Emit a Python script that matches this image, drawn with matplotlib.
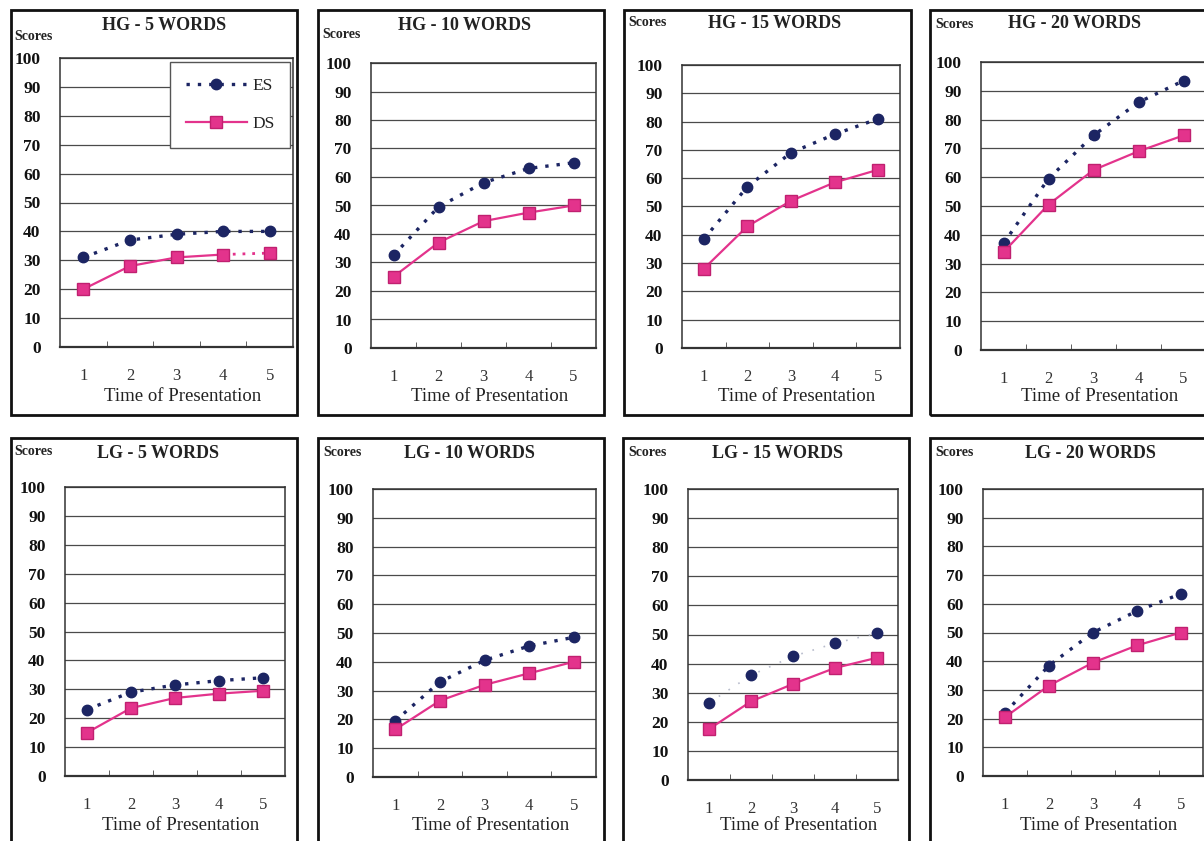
import matplotlib
matplotlib.use("Agg")
import matplotlib.pyplot as plt
from matplotlib.patches import Rectangle
from matplotlib.ticker import FixedLocator

plt.rcParams['font.family'] = ['Liberation Serif', 'DejaVu Serif']

# ---------------- data ----------------
times = ["1", "2", "3", "4", "5"]
titles = ["HG - 5 WORDS", "HG - 10 WORDS", "HG - 15 WORDS", "HG - 20 WORDS",
          "LG - 5 WORDS", "LG - 10 WORDS", "LG - 15 WORDS", "LG - 20 WORDS"]
es_hg5 = [31, 37, 39, 40, 40]
ds_hg5 = [20, 28, 31, 32, 32.5]
es_hg10 = [32.5, 49.5, 58, 63, 65]
ds_hg10 = [25, 37, 44.5, 47.5, 50]
es_hg15 = [38.5, 57, 69, 75.5, 81]
ds_hg15 = [28, 43, 52, 58.5, 63]
es_hg20 = [37, 59.5, 74.5, 86, 93.5]
ds_hg20 = [34, 50.5, 62.5, 69, 74.5]
es_lg5 = [23, 29, 31.5, 33, 34]
ds_lg5 = [15, 23.5, 27, 28.5, 29.5]
es_lg10 = [19.5, 33, 40.5, 45.5, 48.5]
ds_lg10 = [16.5, 26.5, 32, 36, 40]
es_lg15 = [26.5, 36, 42.5, 47, 50.5]
ds_lg15 = [17.5, 27, 33, 38.5, 42]
es_lg20 = [22, 38.5, 50, 57.5, 63.5]
ds_lg20 = [20.5, 31.5, 39.5, 45.5, 50]
es_series = [es_hg5, es_hg10, es_hg15, es_hg20, es_lg5, es_lg10, es_lg15, es_lg20]
ds_series = [ds_hg5, ds_hg10, ds_hg15, ds_hg20, ds_lg5, ds_lg10, ds_lg15, ds_lg20]
y_ticks = [0, 10, 20, 30, 40, 50, 60, 70, 80, 90, 100]

# ---------------- layout (pixels) ----------------
W, H = 1204, 841
fig = plt.figure(figsize=(W / 100, H / 100), dpi=100)
fig.patch.set_facecolor('white')

def fx(x):
    return x / W

def fy(y):
    return 1 - y / H

# plot-area rectangles: left, right, top(100), bottom(0)
areas = [(60, 293, 58, 347), (371, 596, 63, 348), (682, 900, 65, 348), (981, 1206, 62, 350),
         (65, 285, 487, 776), (373, 596, 489, 777), (688, 898, 489, 780), (983, 1203, 489, 776)]
# panel boxes: left, right, top, bottom
boxes = [(11, 297, 10, 415), (318, 604, 10, 415), (624, 911, 10, 415), (930, 1230, 10, 415),
         (11, 297, 438, 860), (318, 604, 438, 860), (623, 909, 438, 860), (930, 1230, 438, 860)]
title_pos = [(164, 25), (465, 25), (775, 23), (1074, 24),
             (158, 453), (469, 453), (777, 453), (1090, 453)]
scores_pos = [(14, 36), (322, 35), (628, 23), (935, 24),
              (14, 452), (323, 453), (628, 453), (935, 453)]
xlabel_y = [397, 397, 397, 397, 826, 826, 826, 826]

ES_COLOR = '#1c2563'
DS_COLOR = '#e3338c'
GRID = '#4a4a4a'

for i in range(8):
    bl, br, bt, bb = boxes[i]
    fig.patches.append(Rectangle((fx(bl), fy(bb)), fx(br) - fx(bl), fy(bt) - fy(bb),
                                 transform=fig.transFigure, fill=False,
                                 edgecolor='#111111', linewidth=2.0, zorder=0))
    l, r, t, b = areas[i]
    ax = fig.add_axes([fx(l), fy(b), fx(r) - fx(l), fy(t) - fy(b)])
    ax.set_facecolor('white')
    x = list(range(1, 6))
    ax.set_xlim(0.5, 5.5)
    ax.set_ylim(0, 100)
    ax.yaxis.set_major_locator(FixedLocator(y_ticks))
    ax.set_xticks(x)
    ax.set_xticklabels(times)
    ax.xaxis.set_minor_locator(FixedLocator([1.5, 2.5, 3.5, 4.5]))
    ax.tick_params(axis='x', which='major', length=0, pad=15, labelsize=12, colors='#333333')
    ax.tick_params(axis='x', which='minor', length=4, direction='in', color='#444444')
    ax.tick_params(axis='y', length=0, pad=14, labelsize=12.5, colors='#111111')
    for lab in ax.get_yticklabels():
        lab.set_fontweight('bold')
    ax.grid(axis='y', color=GRID, linewidth=0.9)
    ax.set_axisbelow(True)
    for s in ax.spines.values():
        s.set_color('#333333')
        s.set_linewidth(1.1)
    ax.spines['bottom'].set_linewidth(1.6)

    es = es_series[i]
    ds = ds_series[i]
    if i == 6:
        ax.plot(x, es, linestyle=(0, (1, 6)), color='#b8bccc', linewidth=1.2, zorder=2)
        ax.plot(x, es, linestyle='none', marker='o', markersize=7.5,
                color=ES_COLOR, zorder=3, label='ES')
    else:
        ax.plot(x, es, linestyle=(0, (1, 2.4)), color=ES_COLOR, linewidth=2.4,
                marker='o', markersize=7.5, zorder=3, label='ES')
    if i == 0:
        ax.plot(x[3:], ds[3:], linestyle=(0, (1, 2.5)), color=DS_COLOR, linewidth=2.0, zorder=2)
        ax.plot(x[:4], ds[:4], color=DS_COLOR, linewidth=1.6, zorder=3)
        ax.plot(x, ds, linestyle='none', marker='s', markersize=8, color=DS_COLOR,
                markeredgecolor='#c02070', zorder=4)
        h1, = ax.plot([], [], linestyle=(0, (1, 2.4)), color=ES_COLOR, linewidth=2.4,
                      marker='o', markersize=7.5)
        h2, = ax.plot([], [], color=DS_COLOR, linewidth=1.6, marker='s', markersize=8,
                      markeredgecolor='#c02070')
        leg = ax.legend([h1, h2], ['ES', 'DS'], loc='upper right',
                        bbox_to_anchor=(fx(290), fy(62)), bbox_transform=fig.transFigure,
                        fancybox=False, edgecolor='#555555', framealpha=1,
                        handlelength=3.5, labelspacing=1.3, fontsize=12.5,
                        borderpad=0.9, handletextpad=0.3, borderaxespad=0)
        leg.get_frame().set_linewidth(1.0)
        for txt in leg.get_texts():
            txt.set_color('#222222')
    else:
        ax.plot(x, ds, color=DS_COLOR, linewidth=1.6, marker='s', markersize=8,
                markeredgecolor='#c02070', zorder=3)

    tx, ty = title_pos[i]
    fig.text(fx(tx), fy(ty), titles[i], ha='center', va='center', fontsize=13,
             fontweight='bold', color='#222222')
    sx, sy = scores_pos[i]
    fig.text(fx(sx), fy(sy), 'Scores', ha='left', va='center', fontsize=10,
             fontweight='bold', color='#222222')
    cx = (l + r) / 2 + 6
    fig.text(fx(cx), fy(xlabel_y[i]), 'Time of Presentation', ha='center', va='center',
             fontsize=13.5, color='#222222')

fig.savefig('out.png', dpi=100, facecolor='white')
